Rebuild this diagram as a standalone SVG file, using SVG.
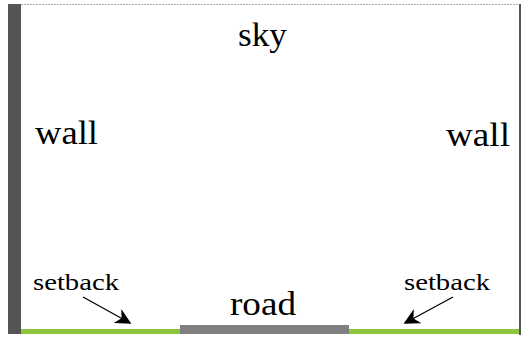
<svg xmlns="http://www.w3.org/2000/svg" width="522" height="337" viewBox="0 0 522 337">
<style>
.lbl{font-family:'Liberation Serif','DejaVu Serif',serif;fill:#000}
.big{font-size:34px}
.small{font-size:24px}
.arr{stroke:#000;stroke-width:1.3;fill:none}
</style>
<defs>
<marker id="ah" viewBox="0 0 10 10" refX="9" refY="5" markerWidth="16" markerHeight="16" markerUnits="userSpaceOnUse" orient="auto">
<path d="M0,0 L10,5 L0,10 L3,5 Z" fill="#000"/>
</marker>
</defs>
<rect width="522" height="337" fill="#fff"/>
<line x1="21" y1="4.5" x2="520" y2="4.5" stroke="#aaa" stroke-width="1" stroke-dasharray="2,1"/>
<g id="left-wall"><rect x="8" y="4" width="13" height="330" fill="#555"/></g>
<g id="right-wall"><rect x="519" y="4" width="2" height="331" fill="#555"/></g>
<g id="setback-left-strip"><rect x="21" y="329" width="159" height="5" fill="#8cc63f"/></g>
<g id="setback-right-strip"><rect x="349" y="329" width="170" height="5" fill="#8cc63f"/></g>
<g id="road-strip"><rect x="180" y="325" width="169" height="9" fill="#7f7f7f"/></g>
<text class="lbl big" x="238" y="46" textLength="49" lengthAdjust="spacingAndGlyphs">sky</text>
<text class="lbl big" x="35" y="144" textLength="63" lengthAdjust="spacingAndGlyphs">wall</text>
<text class="lbl big" x="446" y="146" textLength="64" lengthAdjust="spacingAndGlyphs">wall</text>
<text class="lbl big" x="230" y="315" textLength="66" lengthAdjust="spacingAndGlyphs">road</text>
<text class="lbl small" x="33" y="290" textLength="86" lengthAdjust="spacingAndGlyphs">setback</text>
<text class="lbl small" x="404" y="290" textLength="86" lengthAdjust="spacingAndGlyphs">setback</text>
<g id="connectors">
<line class="arr" x1="83" y1="297" x2="130" y2="323" marker-end="url(#ah)"/>
<line class="arr" x1="453" y1="297" x2="405" y2="323" marker-end="url(#ah)"/>
</g>
</svg>
